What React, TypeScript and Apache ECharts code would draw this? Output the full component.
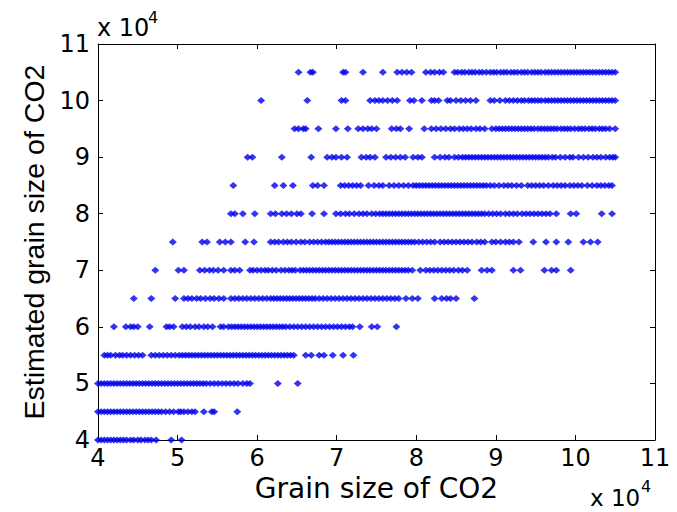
import React, { useEffect, useRef } from "react";
import * as echarts from "echarts";

// Values in units of 10^4 (as labelled on the axes)
const xTicks = [4, 5, 6, 7, 8, 9, 10, 11];
const yTicks = [4, 5, 6, 7, 8, 9, 10, 11];

const levels = [10.5, 10, 9.5, 9, 8.5, 8, 7.5, 7, 6.5, 6, 5.5, 5, 4.5, 4];

const row105 = [6.52, 6.67, 6.70, 7.08, 7.11, 7.33, 7.58, 7.76, 7.82, 7.88, 7.94, 8.12, 8.18, 8.23, 8.29, 8.34,
  8.48, 8.52, 8.57, 8.61, 8.66, 8.70, 8.74, 8.79, 8.83, 8.88, 8.93, 8.97, 9.01, 9.06, 9.10, 9.14, 9.19, 9.23, 9.27, 9.32,
  9.36, 9.40, 9.45, 9.49, 9.53, 9.57, 9.62, 9.66, 9.70, 9.74, 9.78, 9.82, 9.86, 9.90, 9.94, 9.98, 10.02, 10.06, 10.10,
  10.14, 10.18, 10.22, 10.26, 10.30, 10.34, 10.38, 10.42, 10.46, 10.50];
const row100 = [6.05, 6.63, 7.06, 7.11, 7.42, 7.48, 7.53, 7.58, 7.64, 7.70, 7.76, 7.92, 7.97, 8.07, 8.19, 8.23, 8.28,
  8.39, 8.43, 8.50, 8.56, 8.62, 8.68, 8.75, 8.93, 8.98, 9.05, 9.12, 9.17, 9.22, 9.27, 9.32, 9.36, 9.41, 9.45, 9.49, 9.53,
  9.57, 9.62, 9.66, 9.70, 9.74, 9.78, 9.82, 9.86, 9.90, 9.94, 9.98, 10.02, 10.06, 10.10, 10.14, 10.18, 10.22, 10.26,
  10.30, 10.34, 10.38, 10.42, 10.46, 10.50];
const row95 = [6.47, 6.52, 6.58, 6.61, 6.77, 6.99, 7.14, 7.27, 7.33, 7.39, 7.44, 7.50, 7.69, 7.75, 7.80, 7.91, 8.10,
  8.19, 8.25, 8.31, 8.37, 8.43, 8.48, 8.54, 8.59, 8.64, 8.69, 8.75, 8.80, 8.86, 8.95, 9.00, 9.04, 9.08, 9.12, 9.16, 9.20,
  9.24, 9.28, 9.32, 9.36, 9.40, 9.44, 9.48, 9.53, 9.57, 9.61, 9.65, 9.69, 9.73, 9.77, 9.82, 9.86, 9.90, 9.94, 9.99,
  10.04, 10.08, 10.12, 10.17, 10.21, 10.25, 10.30, 10.34, 10.38, 10.43, 10.50];
const row90 = [5.88, 5.94, 6.31, 6.68, 6.88, 6.94, 6.99, 7.06, 7.13, 7.31, 7.37, 7.42, 7.48, 7.62, 7.68, 7.74, 7.80,
  7.86, 7.96, 8.02, 8.07, 8.23, 8.30, 8.36, 8.41, 8.48, 8.53, 8.58, 8.62, 8.66, 8.70, 8.74, 8.78, 8.82, 8.86, 8.90, 8.94,
  8.98, 9.02, 9.06, 9.10, 9.14, 9.18, 9.22, 9.26, 9.30, 9.34, 9.38, 9.42, 9.46, 9.50, 9.54, 9.58, 9.62, 9.66, 9.71, 9.75,
  9.81, 9.87, 9.93, 9.97, 10.04, 10.10, 10.16, 10.22, 10.27, 10.32, 10.38, 10.43, 10.47, 10.50];
const row85 = [5.70, 6.22, 6.33, 6.45, 6.70, 6.76, 6.84, 7.05, 7.10, 7.15, 7.20, 7.25, 7.30, 7.40, 7.47, 7.53, 7.58,
  7.66, 7.72, 7.78, 7.84, 7.90, 7.96, 8.00, 8.04, 8.08, 8.12, 8.16, 8.20, 8.24, 8.28, 8.32, 8.36, 8.40, 8.44, 8.48, 8.52,
  8.56, 8.60, 8.64, 8.68, 8.72, 8.76, 8.80, 8.84, 8.88, 8.93, 8.98, 9.04, 9.10, 9.15, 9.20, 9.26, 9.32, 9.40, 9.45, 9.50,
  9.55, 9.60, 9.66, 9.72, 9.77, 9.82, 9.87, 9.93, 9.98, 10.03, 10.08, 10.15, 10.21, 10.27, 10.32, 10.37, 10.42, 10.46];
const row80 = [5.67, 5.72, 5.82, 5.97, 6.17, 6.23, 6.31, 6.37, 6.43, 6.50, 6.55, 6.69, 6.84, 6.99, 7.05, 7.11, 7.16,
  7.22, 7.28, 7.33, 7.38, 7.44, 7.49, 7.54, 7.58, 7.62, 7.66, 7.70, 7.74, 7.78, 7.82, 7.86, 7.90, 7.94, 7.98, 8.02, 8.06,
  8.10, 8.14, 8.18, 8.22, 8.26, 8.30, 8.34, 8.38, 8.42, 8.46, 8.50, 8.54, 8.58, 8.62, 8.66, 8.70, 8.74, 8.78, 8.82, 8.86,
  8.91, 8.96, 9.01, 9.06, 9.12, 9.17, 9.22, 9.27, 9.33, 9.38, 9.43, 9.48, 9.53, 9.58, 9.63, 9.68, 9.76, 9.94, 10.01,
  10.33, 10.46];
const row75 = [4.94, 5.31, 5.37, 5.53, 5.60, 5.67, 5.85, 5.96, 6.17, 6.22, 6.27, 6.33, 6.38, 6.43, 6.49, 6.55, 6.60,
  6.66, 6.71, 6.76, 6.81, 6.86, 6.90, 6.94, 6.98, 7.02, 7.06, 7.10, 7.14, 7.18, 7.22, 7.26, 7.30, 7.34, 7.38, 7.42, 7.46,
  7.50, 7.54, 7.58, 7.62, 7.66, 7.70, 7.74, 7.78, 7.82, 7.86, 7.90, 7.94, 7.98, 8.03, 8.08, 8.13, 8.18, 8.23, 8.30, 8.35,
  8.40, 8.45, 8.50, 8.55, 8.60, 8.65, 8.70, 8.76, 8.81, 8.86, 8.95, 9.00, 9.06, 9.12, 9.17, 9.22, 9.29, 9.47, 9.63, 9.76,
  9.91, 10.10, 10.19, 10.28];
const row70 = [4.72, 5.01, 5.08, 5.28, 5.34, 5.40, 5.45, 5.51, 5.58, 5.67, 5.72, 5.78, 5.91, 5.95, 6.00, 6.05, 6.10,
  6.14, 6.19, 6.24, 6.30, 6.35, 6.40, 6.44, 6.48, 6.54, 6.58, 6.62, 6.66, 6.70, 6.74, 6.78, 6.82, 6.86, 6.90, 6.94, 6.98,
  7.02, 7.06, 7.10, 7.14, 7.18, 7.22, 7.26, 7.30, 7.34, 7.38, 7.42, 7.46, 7.50, 7.54, 7.58, 7.62, 7.66, 7.70, 7.74, 7.78,
  7.82, 7.86, 7.90, 7.95, 8.05, 8.12, 8.17, 8.22, 8.27, 8.32, 8.37, 8.42, 8.47, 8.53, 8.58, 8.64, 8.82, 8.89, 8.95, 9.22,
  9.31, 9.61, 9.70, 9.76, 9.94];
const row65 = [4.45, 4.67, 4.97, 5.08, 5.13, 5.18, 5.24, 5.29, 5.35, 5.41, 5.46, 5.52, 5.58, 5.67, 5.72, 5.77, 5.82,
  5.87, 5.92, 5.97, 6.02, 6.07, 6.12, 6.17, 6.21, 6.25, 6.29, 6.33, 6.37, 6.41, 6.45, 6.49, 6.53, 6.57, 6.61, 6.65, 6.69,
  6.73, 6.78, 6.83, 6.88, 6.93, 6.98, 7.03, 7.08, 7.13, 7.18, 7.23, 7.28, 7.33, 7.38, 7.43, 7.48, 7.53, 7.58, 7.63, 7.68,
  7.73, 7.78, 7.87, 7.95, 8.02, 8.23, 8.32, 8.38, 8.43, 8.50, 8.73];
const row60 = [4.20, 4.35, 4.41, 4.45, 4.50, 4.65, 4.86, 4.90, 4.95, 5.06, 5.11, 5.16, 5.22, 5.27, 5.33, 5.38, 5.44,
  5.54, 5.58, 5.64, 5.68, 5.72, 5.76, 5.80, 5.84, 5.88, 5.92, 5.96, 6.00, 6.04, 6.08, 6.12, 6.16, 6.20, 6.24, 6.28, 6.32,
  6.36, 6.41, 6.46, 6.51, 6.56, 6.61, 6.66, 6.71, 6.76, 6.81, 6.86, 6.91, 6.96, 7.01, 7.06, 7.11, 7.16, 7.20, 7.29, 7.44,
  7.51, 7.75];
const row55 = [4.08, 4.12, 4.16, 4.22, 4.27, 4.31, 4.36, 4.41, 4.46, 4.51, 4.56, 4.67, 4.72, 4.77, 4.82, 4.87, 4.92,
  4.97, 5.02, 5.06, 5.10, 5.14, 5.18, 5.22, 5.26, 5.30, 5.34, 5.38, 5.42, 5.46, 5.50, 5.54, 5.58, 5.62, 5.66, 5.70, 5.74,
  5.78, 5.82, 5.86, 5.90, 5.94, 5.98, 6.02, 6.06, 6.10, 6.14, 6.18, 6.22, 6.26, 6.30, 6.34, 6.38, 6.42, 6.46, 6.61, 6.68,
  6.78, 6.84, 6.95, 7.08, 7.21];
const row50 = [4.00, 4.04, 4.08, 4.12, 4.16, 4.20, 4.24, 4.28, 4.32, 4.36, 4.40, 4.44, 4.48, 4.52, 4.56, 4.60, 4.64,
  4.68, 4.72, 4.76, 4.80, 4.84, 4.88, 4.92, 4.96, 5.00, 5.04, 5.08, 5.12, 5.16, 5.20, 5.24, 5.28, 5.32, 5.36, 5.41, 5.46,
  5.51, 5.56, 5.61, 5.66, 5.71, 5.76, 5.82, 5.87, 5.91, 6.26, 6.51];
const row45 = [4.00, 4.04, 4.08, 4.12, 4.16, 4.20, 4.24, 4.28, 4.32, 4.36, 4.40, 4.44, 4.48, 4.52, 4.56, 4.60, 4.64,
  4.68, 4.72, 4.76, 4.80, 4.85, 4.90, 4.95, 5.01, 5.04, 5.08, 5.13, 5.18, 5.22, 5.33, 5.43, 5.46, 5.75];
const row40 = [4.00, 4.04, 4.08, 4.12, 4.16, 4.20, 4.24, 4.28, 4.32, 4.36, 4.41, 4.45, 4.50, 4.54, 4.59, 4.63, 4.67,
  4.73, 4.92, 5.05];

const rows = [row105, row100, row95, row90, row85, row80, row75, row70, row65, row60, row55, row50, row45, row40];

const TICK_FONT = "'DejaVu Sans', Arial, sans-serif";
const TITLE_FONT = "'Liberation Sans', Arial, Helvetica, sans-serif";

export default function App() {
  const ref = useRef<HTMLDivElement>(null);

  useEffect(() => {
    if (!ref.current) return;
    const chart = echarts.init(ref.current, undefined, { renderer: "svg" });
    const data: number[][] = [];
    rows.forEach((row, i) => row.forEach((x) => data.push([x, levels[i]])));

    const axisCommon = {
      type: "value" as const,
      min: 4,
      max: 11,
      interval: 1,
      splitLine: { show: false },
      axisLine: { show: true, onZero: false, lineStyle: { color: "#000", width: 1 } },
      axisTick: { show: true, inside: true, length: 5, lineStyle: { color: "#000" } },
    };

    chart.setOption({
      animation: false,
      backgroundColor: "#fff",
      grid: { left: 98, top: 44, width: 557, height: 396, containLabel: false },
      xAxis: [
        {
          ...axisCommon,
          position: "bottom",
          axisLabel: {
            show: true,
            fontSize: 24,
            color: "#000",
            fontFamily: TICK_FONT,
            margin: 6,
            formatter: (v: number) => (xTicks.includes(v) ? String(v) : ""),
          },
          name: "Grain size of CO2",
          nameLocation: "middle",
          nameGap: 31,
          nameTextStyle: { fontSize: 28, color: "#000", fontFamily: TICK_FONT },
        },
        { ...axisCommon, position: "top", axisLabel: { show: false } },
      ],
      yAxis: [
        {
          ...axisCommon,
          position: "left",
          axisLabel: {
            show: true,
            fontSize: 24,
            color: "#000",
            fontFamily: TICK_FONT,
            margin: 8,
            formatter: (v: number) => (yTicks.includes(v) ? String(v) : ""),
          },
          name: "Estimated grain size of CO2",
          nameLocation: "middle",
          nameGap: 46,
          nameRotate: 90,
          nameTextStyle: { fontSize: 28.5, color: "#000", fontFamily: TITLE_FONT },
        },
        { ...axisCommon, position: "right", axisLabel: { show: false } },
      ],
      graphic: [
        { type: "text", x: 97, y: 28, style: { text: "x 10", fontSize: 24, fontFamily: TICK_FONT, fill: "#000", verticalAlign: "middle" } },
        { type: "text", x: 148, y: 17, style: { text: "4", fontSize: 16, fontFamily: TICK_FONT, fill: "#000", verticalAlign: "middle" } },
        { type: "text", x: 590, y: 498, style: { text: "x 10", fontSize: 23, fontFamily: TICK_FONT, fill: "#000", verticalAlign: "middle" } },
        { type: "text", x: 641, y: 486, style: { text: "4", fontSize: 16, fontFamily: TICK_FONT, fill: "#000", verticalAlign: "middle" } },
      ],
      series: [
        {
          type: "scatter",
          data,
          symbol: "diamond",
          symbolSize: [8, 7],
          clip: false,
          itemStyle: { color: "#0000ee" },
          xAxisIndex: 0,
          yAxisIndex: 0,
        },
      ],
    });
    return () => chart.dispose();
  }, []);

  return <div ref={ref} style={{ width: 677, height: 512, position: "absolute", left: 0, top: 0 }} />;
}
